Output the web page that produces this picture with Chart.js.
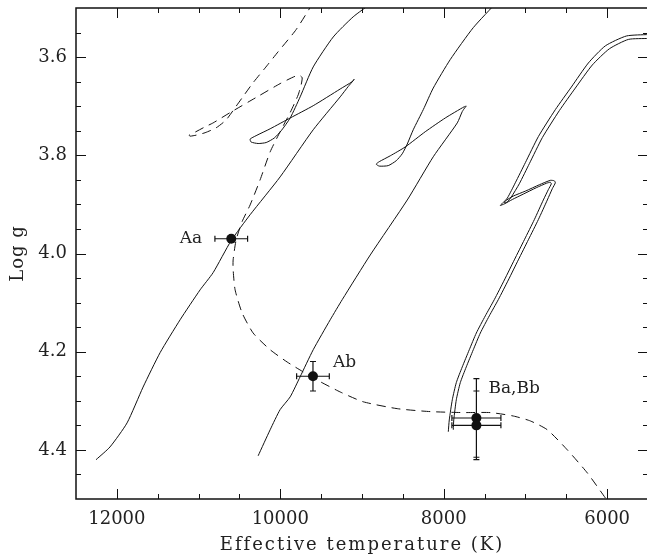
<!DOCTYPE html>
<html>
<head>
<meta charset="utf-8">
<script src="https://cdn.jsdelivr.net/npm/chart.js@4/dist/chart.umd.min.js"></script>
<style>
  html, body { margin: 0; padding: 0; background: #fff; overflow: hidden; }
  canvas { display: block; }
</style>
</head>
<body>
<canvas id="hrChart" width="647" height="558"></canvas>
<script>
// evolutionary tracks, Teff (K) vs log g
const trackA_teff = [12255, 12084, 11875, 11679, 11471, 11226, 10981, 10822, 10602, 10369, 10002, 9597, 9267, 9169, 9108, 9096, 9120, 9267, 9597, 9879, 10124, 10296, 10369, 10357, 10271, 10173, 10075, 9989, 9879, 9757, 9597, 9352, 9108, 8875];
const trackA_logg = [4.420, 4.394, 4.345, 4.272, 4.202, 4.135, 4.074, 4.039, 3.974, 3.921, 3.844, 3.748, 3.681, 3.660, 3.648, 3.645, 3.650, 3.665, 3.699, 3.724, 3.746, 3.760, 3.767, 3.773, 3.776, 3.774, 3.765, 3.750, 3.724, 3.681, 3.620, 3.559, 3.518, 3.489];

const trackB_teff = [10271, 10124, 10002, 9879, 9757, 9597, 9389, 9242, 8899, 8446, 8128, 7834, 7773, 7736, 7724, 7748, 7981, 8226, 8471, 8654, 8789, 8826, 8789, 8679, 8581, 8508, 8446, 8373, 8250, 8128, 7920, 7638, 7344];
const trackB_logg = [4.412, 4.359, 4.318, 4.292, 4.251, 4.196, 4.135, 4.094, 4.003, 3.891, 3.803, 3.734, 3.711, 3.702, 3.700, 3.701, 3.724, 3.752, 3.783, 3.801, 3.813, 3.818, 3.822, 3.821, 3.811, 3.797, 3.777, 3.748, 3.707, 3.663, 3.605, 3.540, 3.487];

const trackBa_teff = [7944, 7932, 7895, 7846, 7773, 7687, 7601, 7491, 7381, 7258, 7136, 7013, 6891, 6781, 6720, 6683, 6695, 6744, 6867, 7026, 7160, 7258, 7307, 7283, 7221, 7124, 7001, 6842, 6634, 6438, 6230, 6021, 5764, 5495];
const trackBa_logg = [4.363, 4.339, 4.298, 4.263, 4.231, 4.196, 4.162, 4.127, 4.094, 4.054, 4.013, 3.972, 3.931, 3.891, 3.870, 3.858, 3.855, 3.857, 3.866, 3.879, 3.890, 3.899, 3.902, 3.898, 3.887, 3.856, 3.815, 3.762, 3.707, 3.661, 3.612, 3.577, 3.557, 3.554];

const trackBb_teff = [7883, 7877, 7846, 7797, 7724, 7638, 7552, 7442, 7332, 7209, 7087, 6964, 6842, 6732, 6671, 6634, 6646, 6695, 6830, 7001, 7148, 7246, 7258, 7221, 7173, 7075, 6952, 6793, 6585, 6389, 6181, 5972, 5740, 5495];
const trackBb_logg = [4.359, 4.339, 4.298, 4.263, 4.231, 4.196, 4.162, 4.127, 4.094, 4.054, 4.013, 3.972, 3.931, 3.891, 3.868, 3.856, 3.852, 3.851, 3.860, 3.873, 3.883, 3.893, 3.897, 3.895, 3.885, 3.858, 3.817, 3.764, 3.709, 3.663, 3.616, 3.583, 3.564, 3.562];

// isochrone (dashed)
const iso_teff = [9597, 9806, 10026, 10185, 10332, 10467, 10553, 10663, 10785, 10920, 11030, 11104, 11116, 11067, 10920, 10822, 10614, 10283, 10002, 9818, 9757, 9732, 9744, 9781, 9879, 10002, 10124, 10247, 10369, 10467, 10540, 10577, 10577, 10553, 10467, 10332, 10124, 9916, 9720, 9512, 9267, 8985, 8569, 8165, 7760, 7430, 7148, 6940, 6732, 6487, 6242, 6021, 5960];
const iso_logg = [3.489, 3.544, 3.589, 3.622, 3.652, 3.683, 3.703, 3.728, 3.744, 3.754, 3.759, 3.761, 3.759, 3.755, 3.742, 3.734, 3.713, 3.681, 3.654, 3.639, 3.638, 3.642, 3.656, 3.677, 3.713, 3.752, 3.793, 3.850, 3.901, 3.935, 3.972, 4.013, 4.033, 4.074, 4.121, 4.162, 4.196, 4.221, 4.241, 4.261, 4.282, 4.302, 4.316, 4.322, 4.324, 4.324, 4.331, 4.341, 4.359, 4.400, 4.447, 4.498, 4.512];

// the stars
const starNames = ['Aa', 'Ab', 'Ba', 'Bb'];
const starTeff = [10600, 9600, 7600, 7600];
const starTeffErr = [200, 200, 300, 300];
const starLogg = [3.97, 4.25, 4.335, 4.35];
const starLoggErr = [0, 0.03, 0.08, 0.07];

const xTicks = [12000, 10000, 8000, 6000];
const yTicks = [3.6, 3.8, 4.0, 4.2, 4.4];

const FONT = "'DejaVu Serif', serif";
const PLOT_RIGHT = 648; // right edge of the box sits just off the page

// label placement (pixels from the star)
const starLabels = [
  { star: 0, text: 'Aa', dx: -29, dy: 0, align: 'right' },
  { star: 1, text: 'Ab', dx: 20, dy: -14, align: 'left' },
  { star: 2, text: 'Ba,Bb', dx: 12, dy: -29, align: 'left' }
];

const toPts = (xs, ys) => xs.map((v, i) => ({ x: v, y: ys[i] }));

function lineSet(xs, ys, dash) {
  return {
    type: 'scatter',
    data: toPts(xs, ys),
    showLine: true,
    borderColor: '#111',
    borderWidth: 1,
    borderDash: dash || [],
    pointRadius: 0,
    tension: 0.2,
    fill: false
  };
}

// error bars, drawn under the dots
const errorBars = {
  id: 'errorBars',
  beforeDatasetsDraw(chart) {
    const { ctx, scales: { x, y } } = chart;
    ctx.save();
    ctx.strokeStyle = '#111';
    ctx.lineWidth = 1.2;
    ctx.beginPath();
    starTeff.forEach((t, i) => {
      const py = y.getPixelForValue(starLogg[i]);
      const x1 = x.getPixelForValue(t - starTeffErr[i]);
      const x2 = x.getPixelForValue(t + starTeffErr[i]);
      ctx.moveTo(x1, py); ctx.lineTo(x2, py);
      ctx.moveTo(x1, py - 3); ctx.lineTo(x1, py + 3);
      ctx.moveTo(x2, py - 3); ctx.lineTo(x2, py + 3);
      if (starLoggErr[i] > 0) {
        const px = x.getPixelForValue(t);
        const y1 = y.getPixelForValue(starLogg[i] - starLoggErr[i]);
        const y2 = y.getPixelForValue(starLogg[i] + starLoggErr[i]);
        ctx.moveTo(px, y1); ctx.lineTo(px, y2);
        ctx.moveTo(px - 3, y1); ctx.lineTo(px + 3, y1);
        ctx.moveTo(px - 3, y2); ctx.lineTo(px + 3, y2);
      }
    });
    ctx.stroke();
    ctx.restore();
  }
};

// box, inward ticks on all four sides, axis titles, star names
const frame = {
  id: 'frame',
  afterDatasetsDraw(chart) {
    const { ctx, chartArea: a, scales: { x, y } } = chart;
    ctx.save();
    ctx.strokeStyle = '#111';
    ctx.lineWidth = 1.5;
    ctx.strokeRect(a.left, a.top, a.right - a.left, a.bottom - a.top);

    ctx.lineWidth = 1;
    ctx.beginPath();
    for (let t = x.min + 500; t < x.max; t += 500) {
      const len = xTicks.includes(t) ? 10 : 5;
      const px = Math.round(x.getPixelForValue(t)) + 0.5;
      ctx.moveTo(px, a.bottom); ctx.lineTo(px, a.bottom - len);
      ctx.moveTo(px, a.top); ctx.lineTo(px, a.top + len);
    }
    for (let k = 1; k < 20; k++) {
      const g = y.min + k * 0.05;
      const len = yTicks.some(v => Math.abs(v - g) < 1e-6) ? 10 : 5;
      const py = Math.round(y.getPixelForValue(g)) + 0.5;
      ctx.moveTo(a.left, py); ctx.lineTo(a.left + len, py);
      ctx.moveTo(a.right, py); ctx.lineTo(a.right - len, py);
    }
    ctx.stroke();

    ctx.fillStyle = '#222';
    ctx.textBaseline = 'middle';
    ctx.font = '18px ' + FONT;
    ctx.textAlign = 'center';
    ctx.letterSpacing = '2px';
    ctx.fillText('Effective temperature (K)', (a.left + a.right) / 2, 545);
    ctx.save();
    ctx.translate(18, (a.top + a.bottom) / 2);
    ctx.rotate(-Math.PI / 2);
    ctx.letterSpacing = '1px';
    ctx.fillText('Log g', 0, 0);
    ctx.restore();

    ctx.letterSpacing = '0px';
    ctx.font = '17px ' + FONT;
    starLabels.forEach(l => {
      const px = x.getPixelForValue(starTeff[l.star]) + l.dx;
      const py = y.getPixelForValue(starLogg[l.star]) + l.dy;
      ctx.textAlign = l.align;
      ctx.fillText(l.text, px, py);
    });
    ctx.restore();
  }
};

// drop the label overflow padding chart.js reserves
const noPad = s => { s.paddingTop = 0; s.paddingBottom = 0; s.paddingLeft = 0; s.paddingRight = 0; };

function makeConfig() {
  return {
    type: 'scatter',
    data: {
      datasets: [
        lineSet(trackA_teff, trackA_logg),
        lineSet(trackB_teff, trackB_logg),
        lineSet(trackBa_teff, trackBa_logg),
        lineSet(trackBb_teff, trackBb_logg),
        lineSet(iso_teff, iso_logg, [9, 6]),
        {
          type: 'scatter',
          data: toPts(starTeff, starLogg),
          pointRadius: 5,
          pointBackgroundColor: '#111',
          pointBorderColor: '#111',
          pointBorderWidth: 0
        }
      ]
    },
    options: {
      responsive: false,
      devicePixelRatio: 1,
      animation: false,
      layout: { padding: { top: 8, right: 0, left: 0, bottom: 0 } },
      plugins: { legend: { display: false }, tooltip: { enabled: false } },
      scales: {
        x: {
          type: 'linear',
          min: 5500,
          max: 12500,
          reverse: true,
          grid: { display: false },
          border: { display: false },
          afterBuildTicks: s => { s.ticks = xTicks.map(v => ({ value: v })); },
          afterFit: s => { s.height = 59; noPad(s); },
          ticks: {
            padding: 2,
            color: '#222',
            font: { family: FONT, size: 18 },
            callback: v => String(v)
          }
        },
        y: {
          type: 'linear',
          min: 3.5,
          max: 4.5,
          reverse: true,
          grid: { display: false },
          border: { display: false },
          afterBuildTicks: s => { s.ticks = yTicks.map(v => ({ value: v })); },
          afterFit: s => { s.width = 76; noPad(s); },
          ticks: {
            padding: 1,
            color: '#222',
            font: { family: FONT, size: 18 },
            callback: v => v.toFixed(1)
          }
        }
      }
    },
    plugins: [errorBars, frame]
  };
}

// chart.js keeps a few px free on the right; widen the canvas past the page edge to push the box out to 648
const canvas = document.getElementById('hrChart');
let chart = new Chart(canvas, makeConfig());
const extra = Math.round(PLOT_RIGHT - chart.chartArea.right);
if (extra !== 0) {
  chart.destroy();
  canvas.width = 647 + extra;
  canvas.height = 558;
  chart = new Chart(canvas, makeConfig());
}
</script>
</body>
</html>
